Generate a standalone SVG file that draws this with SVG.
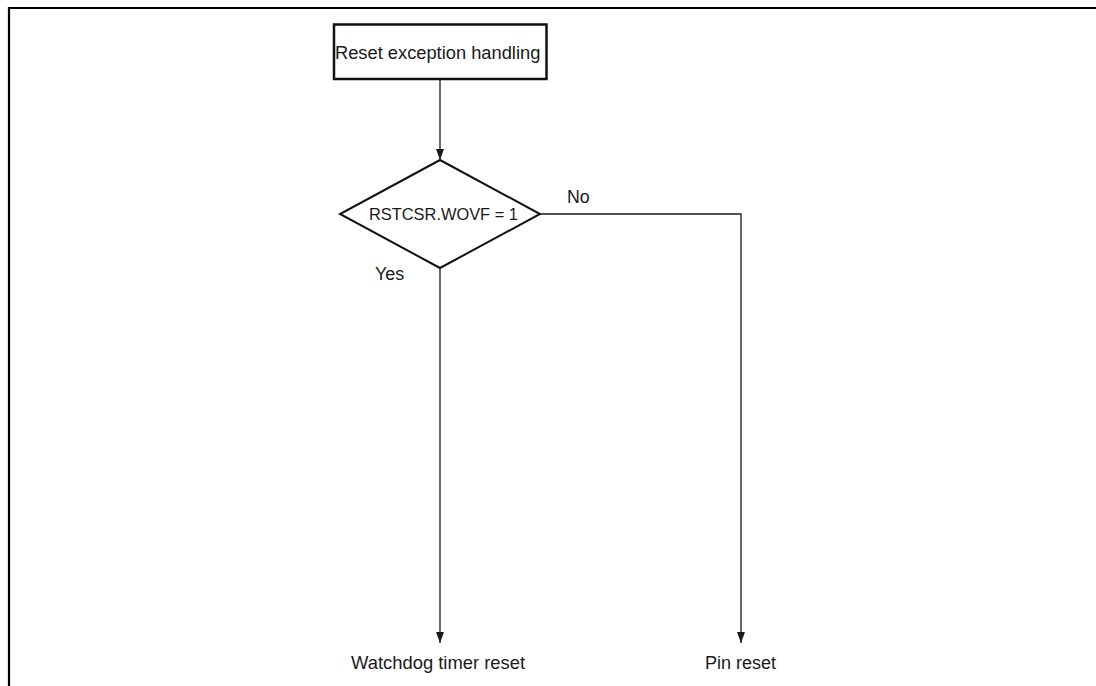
<svg xmlns="http://www.w3.org/2000/svg" width="1096" height="686" viewBox="0 0 1096 686">
<defs>
<marker id="arr" markerWidth="11" markerHeight="8" refX="11" refY="4" orient="auto" markerUnits="userSpaceOnUse" viewBox="0 0 11 8">
<path d="M0,0 L11,4 L0,8 Z" fill="#1a1a1a"/>
</marker>
</defs>
<style>
.t{font-family:"Liberation Sans",Arial,sans-serif;fill:#1a1a1a}
.c{fill:none;stroke:#1a1a1a;stroke-width:1.3}
</style>
<rect x="0" y="0" width="1096" height="686" fill="#fff"/>
<path d="M9,686 V8 H1096" fill="none" stroke="#000" stroke-width="2.2"/>
<g id="start">
<rect x="334" y="24.5" width="212.5" height="54.5" fill="#fff" stroke="#111" stroke-width="2.5"/>
<text class="t" x="335" y="59" font-size="18.3">Reset exception handling</text>
</g>
<g id="decision">
<polygon points="440,160 540,214 440,268 340,214" fill="#fff" stroke="#111" stroke-width="2"/>
<text class="t" x="369" y="220" font-size="16.4">RSTCSR.WOVF = 1</text>
</g>
<g id="wdt">
<text class="t" x="351" y="669" font-size="18.4">Watchdog timer reset</text>
</g>
<g id="pin">
<text class="t" x="705" y="669" font-size="18">Pin reset</text>
</g>
<g id="connectors">
<line class="c" x1="440" y1="79" x2="440" y2="160" marker-end="url(#arr)"/>
<line class="c" x1="440" y1="268" x2="440" y2="643" marker-end="url(#arr)"/>
<polyline class="c" points="540,214 741,214 741,643" marker-end="url(#arr)"/>
<text class="t" x="567" y="202.5" font-size="17.8">No</text>
<text class="t" x="375" y="280" font-size="18">Yes</text>
</g>
</svg>
